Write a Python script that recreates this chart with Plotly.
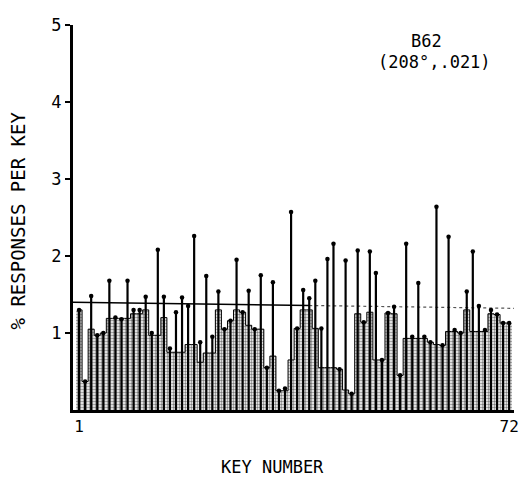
import plotly.graph_objects as go

# Key numbers 1..72
keys = list(range(1, 73))

# Height of the black stick drawn for each key (% responses per key)
stick_top = [1.30, 0.37, 1.48, 0.97, 1.00, 1.68, 1.20, 1.18, 1.68, 1.30,
             1.30, 1.47, 1.00, 2.08, 1.47, 0.80, 1.27, 1.46, 1.35, 2.26,
             0.88, 1.74, 0.95, 1.54, 1.05, 1.16, 1.95, 1.27, 1.55, 1.05,
             1.75, 0.55, 1.66, 0.25, 0.28, 2.57, 1.06, 1.56, 1.45, 1.68,
             1.06, 1.96, 2.16, 0.53, 1.94, 0.21, 2.07, 1.14, 2.06, 1.78,
             0.65, 1.26, 1.34, 0.45, 2.16, 0.95, 1.65, 0.95, 0.88, 2.64,
             0.84, 2.25, 1.04, 1.00, 1.54, 2.06, 1.35, 1.04, 1.30, 1.24,
             1.13, 1.13]

# Height of the stippled (shaded) area for each key
fill_top = [1.30, 0.37, 1.05, 0.97, 1.00, 1.19, 1.19, 1.19, 1.19, 1.25,
            1.25, 1.30, 0.97, 0.97, 1.20, 0.75, 0.75, 0.75, 0.85, 0.85,
            0.62, 0.74, 0.74, 1.30, 1.05, 1.16, 1.30, 1.27, 1.10, 1.05,
            1.05, 0.55, 0.70, 0.25, 0.25, 0.65, 1.06, 1.30, 1.30, 1.06,
            0.55, 0.55, 0.55, 0.53, 0.26, 0.21, 1.25, 1.14, 1.27, 0.65,
            0.65, 1.26, 1.25, 0.45, 0.93, 0.93, 0.93, 0.93, 0.88, 0.85,
            0.84, 1.02, 1.02, 1.00, 1.30, 1.02, 1.02, 1.02, 1.25, 1.24,
            1.13, 1.13]

# Reference level line (solid part, then dotted part)
level_solid_x = [0.0, 39.0]
level_solid_y = [1.40, 1.357]
level_dot_x = [39.0, 72.8]
level_dot_y = [1.357, 1.32]

y_ticks = [1, 2, 3, 4, 5]
x_tick_vals = [1, 72]
x_tick_text = ["1", "72"]

FONT = "DejaVu Sans Mono"

fig = go.Figure()

fig.add_trace(go.Bar(
    x=keys, y=fill_top, width=1.0,
    marker=dict(color="white", line=dict(width=0),
                pattern=dict(shape=".", fgcolor="black", bgcolor="white",
                             size=3, solidity=0.5)),
    showlegend=False, hoverinfo="skip"))

fig.add_trace(go.Scatter(
    x=keys, y=fill_top, mode="lines", line=dict(color="black", width=1.0, shape="hvh"),
    showlegend=False, hoverinfo="skip"))

fig.add_trace(go.Scatter(
    x=level_solid_x, y=level_solid_y, mode="lines",
    line=dict(color="black", width=1.5), showlegend=False, hoverinfo="skip"))
fig.add_trace(go.Scatter(
    x=level_dot_x, y=level_dot_y, mode="lines",
    line=dict(color="#555555", width=1.2, dash="dot"), showlegend=False, hoverinfo="skip"))

# sticks: drawn as one-sided error bars from the top value down to zero
fig.add_trace(go.Scatter(
    x=keys, y=stick_top, mode="markers",
    marker=dict(color="black", size=4.5, symbol="circle"),
    error_y=dict(type="data", symmetric=False, array=[0] * len(keys),
                 arrayminus=stick_top, color="black", thickness=2.2, width=0),
    showlegend=False, hoverinfo="skip"))

L, R, T, B = 73, 13, 25, 77
W, H = 531, 487
pw = W - L - R
ph = H - T - B


def px(x):
    return (x - L) / pw


def py(y):
    return (H - y - B) / ph


fig.update_layout(
    width=W, height=H,
    margin=dict(l=L, r=R, t=T, b=B),
    paper_bgcolor="white", plot_bgcolor="white",
    barmode="overlay", bargap=0,
    font=dict(family=FONT, color="black", size=16),
    xaxis=dict(range=[0.0, 72.8], showgrid=False, zeroline=False,
               showline=True, linecolor="black", linewidth=3,
               tickmode="array", tickvals=x_tick_vals, ticktext=x_tick_text,
               ticks="", tickfont=dict(family=FONT, size=16)),
    yaxis=dict(range=[0, 5], showgrid=False, zeroline=False,
               showline=True, linecolor="black", linewidth=3,
               tickmode="array", tickvals=y_ticks,
               ticks="outside", ticklen=5, tickwidth=2, tickcolor="black",
               tickfont=dict(family=FONT, size=17)),
    annotations=[
        dict(text="B62", x=px(430), y=py(41), xref="paper", yref="paper",
             xanchor="center", yanchor="middle",
             showarrow=False, font=dict(family=FONT, size=17)),
        dict(text="(208°,.021)", x=px(438), y=py(62), xref="paper", yref="paper",
             xanchor="center", yanchor="middle",
             showarrow=False, font=dict(family=FONT, size=17)),
        dict(text="% RESPONSES PER KEY", x=px(18), y=py(220), xref="paper", yref="paper",
             xanchor="center", yanchor="middle",
             textangle=-90, showarrow=False, font=dict(family=FONT, size=19)),
        dict(text="KEY NUMBER", x=px(274), y=py(467), xref="paper", yref="paper",
             xanchor="center", yanchor="middle",
             showarrow=False, font=dict(family=FONT, size=17)),
    ],
)

fig.write_html("out.html")
